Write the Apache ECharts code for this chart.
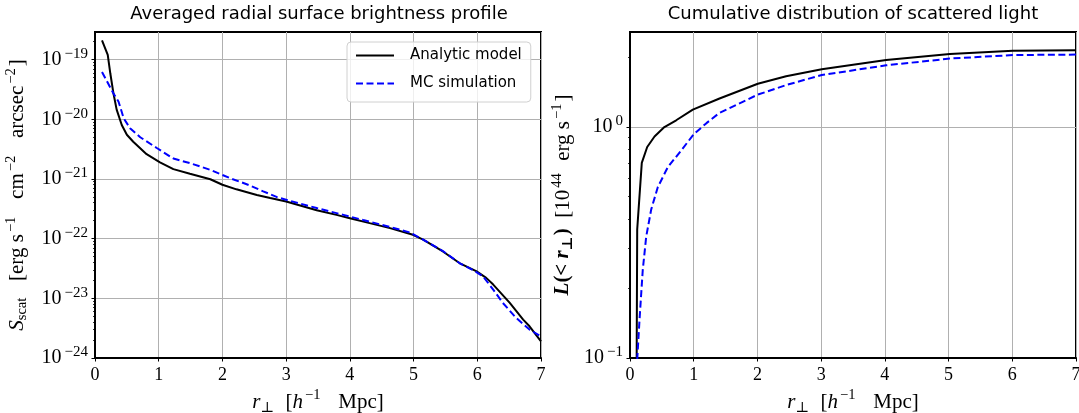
<!DOCTYPE html>
<html>
<head>
<meta charset="utf-8">
<script src="https://cdn.jsdelivr.net/npm/echarts@6/dist/echarts.min.js"></script>
<style>html,body{margin:0;padding:0;background:#fff;overflow:hidden}#c{width:1079px;height:413px}</style>
</head>
<body>
<div id="c"></div>
<script>
// ---------- data ----------
const titles = ['Averaged radial surface brightness profile', 'Cumulative distribution of scattered light'];
const seriesNames = ['Analytic model', 'MC simulation'];

// Left panel: surface brightness S_scat vs r_perp
const sbAnalyticR = [0.11, 0.2, 0.24, 0.29, 0.34, 0.42, 0.5, 0.6, 0.81, 1.02, 1.23, 1.49, 1.81, 2.0, 2.22, 2.54, 2.75, 3.0, 3.48, 3.79, 4.0, 4.31, 4.63, 4.99, 5.15, 5.46, 5.72, 5.99, 6.14, 6.25, 6.51, 6.72, 6.82, 7.0];
const sbAnalyticS = [2.1e-19, 1.2e-19, 5.9e-20, 2.7e-20, 1.45e-20, 8.0e-21, 5.5e-21, 4.2e-21, 2.6e-21, 1.9e-21, 1.46e-21, 1.22e-21, 9.9e-22, 8.0e-22, 6.7e-22, 5.4e-22, 4.8e-22, 4.2e-22, 3.0e-22, 2.5e-22, 2.2e-22, 1.82e-22, 1.5e-22, 1.16e-22, 9.6e-23, 6.1e-23, 3.9e-23, 2.83e-23, 2.2e-23, 1.7e-23, 8.4e-24, 4.4e-24, 3.4e-24, 1.9e-24];
const sbMcR = [0.11, 0.19, 0.29, 0.37, 0.45, 0.55, 0.71, 0.97, 1.23, 1.49, 1.81, 2.12, 2.43, 2.64, 2.85, 3.06, 3.48, 3.9, 4.21, 4.6, 4.94, 5.15, 5.46, 5.72, 5.95, 6.09, 6.25, 6.4, 6.61, 6.82, 7.0];
const sbMcS = [6.2e-20, 4.3e-20, 2.7e-20, 1.97e-20, 1.04e-20, 7.1e-21, 5.0e-21, 3.3e-21, 2.2e-21, 1.84e-21, 1.42e-21, 1.03e-21, 7.8e-22, 6.2e-22, 5.0e-22, 4.3e-22, 3.25e-22, 2.5e-22, 2.05e-22, 1.6e-22, 1.27e-22, 9.6e-23, 6.2e-23, 3.9e-23, 2.9e-23, 2.33e-23, 1.4e-23, 8.4e-24, 4.7e-24, 3.0e-24, 2.3e-24];

// Right panel: cumulative luminosity L(<r_perp) [1e44 erg/s]
const cumAnalyticR = [0.10, 0.113, 0.185, 0.27, 0.385, 0.54, 0.725, 0.986, 1.405, 2.006, 2.45, 3.01, 4.02, 5.02, 6.01, 7.0];
const cumAnalyticL = [0.05, 0.36, 0.70, 0.82, 0.91, 1.0, 1.07, 1.19, 1.33, 1.54, 1.66, 1.78, 1.95, 2.07, 2.14, 2.15];
const cumMcR = [0.113, 0.149, 0.2, 0.254, 0.333, 0.437, 0.593, 0.8, 1.0, 1.2, 1.4, 2.0, 2.45, 3.01, 4.02, 5.02, 6.01, 7.0];
const cumMcL = [0.098, 0.146, 0.24, 0.335, 0.44, 0.55, 0.67, 0.79, 0.93, 1.04, 1.15, 1.38, 1.52, 1.68, 1.85, 1.98, 2.05, 2.06];

// axis ranges and ticks
const xMin = 0, xMax = 7, xInterval = 1;
const sbMin = 1e-24, sbMax = 2.9e-19;
const sbMajorTicks = [1e-24, 1e-23, 1e-22, 1e-21, 1e-20, 1e-19];
const cumMin = 0.1, cumMax = 2.58;
const cumMajorTicks = [0.1, 1];

function minorTicks(lo, hi) {
  const out = [];
  for (let e = Math.floor(Math.log10(lo)); e <= Math.ceil(Math.log10(hi)); e++) {
    for (let k = 2; k <= 9; k++) {
      const v = k * Math.pow(10, e);
      if (v > lo && v < hi) out.push(v);
    }
  }
  return out;
}

// ---------- styles ----------
const SERIF = "'Liberation Serif', 'DejaVu Serif', serif";
const SANS = "'DejaVu Sans', sans-serif";
const GRIDC = '#b0b0b0';

function zip(a, b) { return a.map((v, i) => [v, b[i]]); }

function expLabel(v) {
  const e = Math.round(Math.log10(v));
  return '{b|10}{s|' + (e < 0 ? '\u2212' + (-e) : e) + '}';
}
const tickRich = {
  b: { fontFamily: SERIF, fontSize: 20, color: '#000', verticalAlign: 'middle' },
  s: { fontFamily: SERIF, fontSize: 15, color: '#000', verticalAlign: 'bottom', padding: [0, 0, 8, 3] }
};

const NF = 21, SF = 14.5;
const mainTok = (extra) => Object.assign({ fontFamily: SERIF, fontSize: NF, color: '#000', verticalAlign: 'middle' }, extra || {});
const nameRich = {
  n: mainTok(),
  i: mainTok({ fontStyle: 'italic' }),
  bi: mainTok({ fontStyle: 'italic', fontWeight: 'bold' }),
  nb: mainTok({ fontWeight: 'bold' }),
  sub: { fontFamily: SERIF, fontSize: SF, color: '#000', verticalAlign: 'top', padding: [9, 1, 0, 0] },
  subb: { fontFamily: SERIF, fontSize: SF, fontWeight: 'bold', color: '#000', verticalAlign: 'top', padding: [9, 1, 0, 0] },
  sup: { fontFamily: SERIF, fontSize: SF, color: '#000', verticalAlign: 'bottom', padding: [0, 2, 9, 2] }
};

const xName = '{i|r}{sub|\u22A5}{n|  [}{i|h}{sup|\u22121}{n|   Mpc]}';
const sbName = '{i|S}{sub|scat}{n|   [erg s}{sup|\u22121}{n|   cm}{sup|\u22122}{n|   arcsec}{sup|\u22122}{n|]}';
const cumName = '{bi|L}{nb|(< }{bi|r}{subb|\u22A5}{nb|)}{n|  [10}{sup|44}{n|  erg s}{sup|\u22121}{n|]}';

function xAxis(gi) {
  return {
    gridIndex: gi, type: 'value', min: xMin, max: xMax, interval: xInterval,
    name: xName, nameLocation: 'middle', nameGap: 34, nameMoveOverlap: false,
    nameTextStyle: { lineHeight: 20, rich: nameRich },
    axisLine: { show: true, onZero: false, lineStyle: { color: '#000', width: 2 } },
    axisTick: { show: true, inside: false, length: 3.5, lineStyle: { color: '#000', width: 1 } },
    axisLabel: { fontFamily: SERIF, fontSize: 18, color: '#000', margin: 8 },
    splitLine: { show: true, lineStyle: { color: GRIDC, width: 1 } }
  };
}
function yMajor(gi, lo, hi, ticks, name, gap) {
  return {
    gridIndex: gi, type: 'log', logBase: 10, min: lo, max: hi, position: 'left',
    name: name, nameLocation: 'middle', nameGap: gap, nameMoveOverlap: false,
    nameTextStyle: { lineHeight: 22, rich: nameRich },
    axisLine: { show: true, onZero: false, lineStyle: { color: '#000', width: 2 } },
    axisTick: { show: true, inside: false, length: 3.5, customValues: ticks, lineStyle: { color: '#000', width: 1 } },
    axisLabel: { customValues: ticks, formatter: expLabel, rich: tickRich, lineHeight: 20, margin: 7 },
    splitLine: { show: true, lineStyle: { color: GRIDC, width: 1 } }
  };
}
function yMinor(gi, lo, hi) {
  return {
    gridIndex: gi, type: 'log', logBase: 10, min: lo, max: hi, position: 'left', offset: 0,
    axisLine: { show: false },
    axisTick: { show: true, inside: false, length: 2, customValues: minorTicks(lo, hi), lineStyle: { color: '#000', width: 0.8 } },
    axisLabel: { show: false },
    splitLine: { show: false }
  };
}

const black = { color: '#000', width: 2 };
const blue = { color: '#0000ff', width: 2, type: [7, 3.5] };

function line(name, data, xi, yi, style) {
  return {
    name: name, type: 'line', xAxisIndex: xi, yAxisIndex: yi, data: data,
    symbol: 'none', showSymbol: false, smooth: false, clip: true,
    color: style.color, lineStyle: style, animation: false, z: 3
  };
}

const gridBase = { top: 32, width: 446, height: 326, show: true, borderColor: '#000', borderWidth: 2,
  backgroundColor: 'transparent', containLabel: false, outerBoundsMode: 'none' };

const option = {
  animation: false,
  backgroundColor: '#fff',
  title: [
    { text: titles[0], left: 319, top: 4, textAlign: 'center', padding: 0,
      textStyle: { fontFamily: SANS, fontSize: 18, lineHeight: 20, fontWeight: 'normal', color: '#000' } },
    { text: titles[1], left: 853, top: 4, textAlign: 'center', padding: 0,
      textStyle: { fontFamily: SANS, fontSize: 18, lineHeight: 20, fontWeight: 'normal', color: '#000' } }
  ],
  legend: {
    orient: 'vertical', left: 347, top: 42,
    padding: [6, 9, 11, 8], itemGap: 13, itemWidth: 38, itemHeight: 14,
    borderColor: '#d0d0d0', borderWidth: 1, borderRadius: 4,
    backgroundColor: 'rgba(255,255,255,0.8)',
    itemStyle: { color: 'rgba(0,0,0,0)', borderWidth: 0, opacity: 0 },
    textStyle: { fontFamily: SANS, fontSize: 15, color: '#000', padding: [0, 0, 0, 11] },
    data: seriesNames
  },
  grid: [
    Object.assign({ left: 95 }, gridBase),
    Object.assign({ left: 630 }, gridBase)
  ],
  xAxis: [xAxis(0), xAxis(1)],
  yAxis: [
    yMajor(0, sbMin, sbMax, sbMajorTicks, sbName, 67),
    yMinor(0, sbMin, sbMax),
    yMajor(1, cumMin, cumMax, cumMajorTicks, cumName, 56),
    yMinor(1, cumMin, cumMax)
  ],
  series: [
    line(seriesNames[0], zip(sbAnalyticR, sbAnalyticS), 0, 0, black),
    line(seriesNames[1], zip(sbMcR, sbMcS), 0, 0, blue),
    line(seriesNames[0], zip(cumAnalyticR, cumAnalyticL), 1, 2, black),
    line(seriesNames[1], zip(cumMcR, cumMcL), 1, 2, blue)
  ]
};

const chart = echarts.init(document.getElementById('c'), null, { renderer: 'canvas' });
chart.setOption(option);
</script>
</body>
</html>
